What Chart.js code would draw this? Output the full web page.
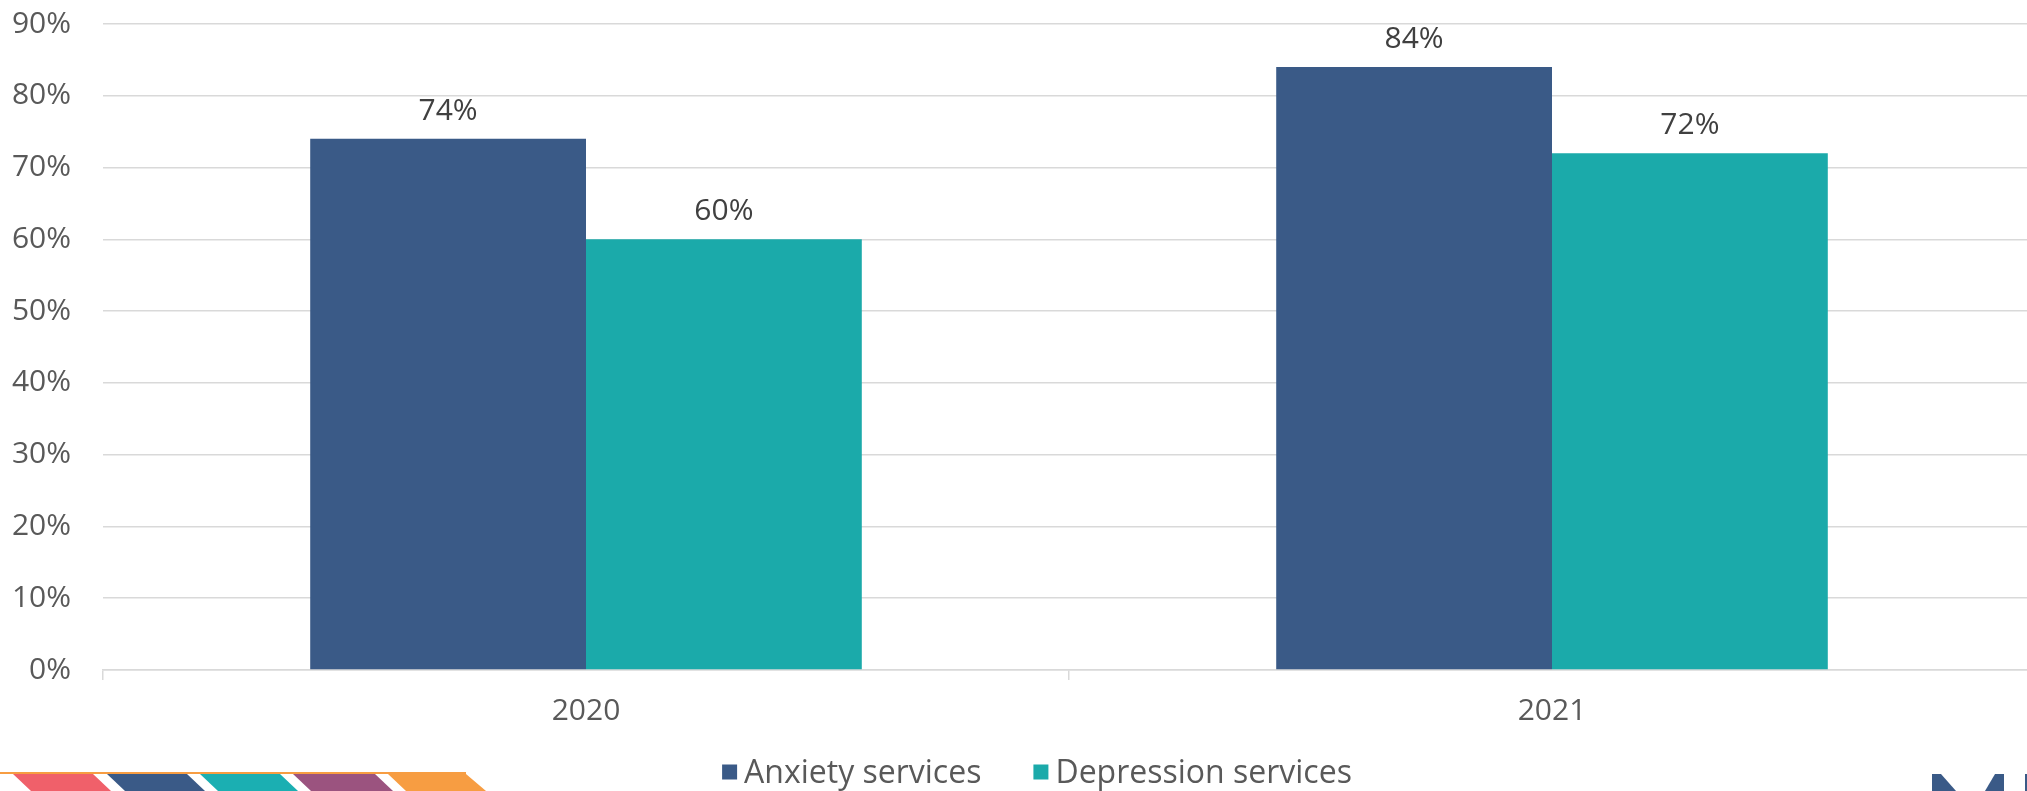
<!DOCTYPE html>
<html>
<head>
<meta charset="utf-8">
<title>Anxiety and depression services</title>
<script src="https://cdn.jsdelivr.net/npm/chart.js@4.4.0/dist/chart.umd.min.js"></script>
<style>
  html, body { margin: 0; padding: 0; background: #fff; overflow: hidden; }
  #page { position: relative; width: 2027px; height: 791px; overflow: hidden; }
  #plot { position: absolute; left: 0; top: 0; width: 2035px; height: 791px; }
  #trim { position: absolute; left: 0; top: 0; pointer-events: none; }
</style>
</head>
<body>
<div id="page">
  <div id="plot"><canvas id="grafico"></canvas></div>
  <!-- slide footer: coloured stripes and the corner of the logo -->
  <svg id="trim" width="2027" height="791">
    <rect x="0" y="772" width="466" height="2" fill="#F79D42"/>
    <polygon points="13,774 93,774 111,791 31,791" fill="#F0606A"/>
    <polygon points="107,774 187,774 205,791 125,791" fill="#3A5A87"/>
    <polygon points="200,774 280,774 298,791 218,791" fill="#1BAFB2"/>
    <polygon points="293,774 375,774 393,791 311,791" fill="#9B537F"/>
    <polygon points="388,774 466,774 486,791 406,791" fill="#F79D42"/>
    <polygon points="1932,774 1941,774 1956,791 1932,791" fill="#3A5A87"/>
    <polygon points="1995,774 2004,774 2004,791 1985,791" fill="#3A5A87"/>
    <polygon points="2025,774 2027,774 2027,791 2025,791" fill="#3A5A87"/>
  </svg>
</div>
<script>
const anos = ['2020', '2021'];
const ansiedad = [74, 84];
const depresion = [60, 72];
const ticksY = [0, 10, 20, 30, 40, 50, 60, 70, 80, 90];

const FUENTE = '"Open Sans", Lato, sans-serif';

// porcentaje encima de cada barra
const etiquetasValor = {
    id: 'etiquetasValor',
    afterDatasetsDraw(chart) {
        const ctx = chart.ctx;
        ctx.save();
        ctx.font = '30px ' + FUENTE;
        ctx.fillStyle = '#404040';
        ctx.textAlign = 'center';
        ctx.textBaseline = 'alphabetic';
        chart.data.datasets.forEach((ds, i) => {
            chart.getDatasetMeta(i).data.forEach((barra, j) => {
                ctx.fillText(ds.data[j] + '%', barra.x, barra.y - 19);
            });
        });
        ctx.restore();
    }
};

// leyenda propia: cuadro pequeño pegado al texto y bastante aire entre series
const leyenda = {
    id: 'leyenda',
    afterDraw(chart, args, opts) {
        const ctx = chart.ctx;
        ctx.save();
        ctx.font = opts.size + 'px ' + FUENTE;
        ctx.textBaseline = 'middle';
        ctx.textAlign = 'left';
        const items = chart.data.datasets.map(ds => ({
            texto: ds.label,
            color: ds.backgroundColor,
            ancho: opts.caja + opts.hueco + ctx.measureText(ds.label).width
        }));
        const total = items.reduce((s, it) => s + it.ancho, 0) + opts.separacion * (items.length - 1);
        let x = opts.centroX - total / 2;
        items.forEach(it => {
            ctx.fillStyle = it.color;
            ctx.fillRect(x, opts.y - opts.caja / 2, opts.caja, opts.caja);
            ctx.fillStyle = '#595959';
            ctx.fillText(it.texto, x + opts.caja + opts.hueco, opts.y + 2);
            x += it.ancho + opts.separacion;
        });
        ctx.restore();
    }
};

const ctx = document.getElementById('grafico').getContext('2d');

new Chart(ctx, {
    type: 'bar',
    data: {
        labels: anos,
        datasets: [{
            label: 'Anxiety services',
            data: ansiedad,
            backgroundColor: '#3A5A87',
            borderWidth: 0
        }, {
            label: 'Depression services',
            data: depresion,
            backgroundColor: '#1BAAAA',
            borderWidth: 0
        }]
    },
    options: {
        responsive: true,
        maintainAspectRatio: false,
        animation: false,
        categoryPercentage: 0.571,
        barPercentage: 1.0,
        layout: {
            padding: { top: 0, left: 0, right: 0, bottom: 49 }
        },
        scales: {
            x: {
                offset: true,
                grid: {
                    offset: true,
                    drawOnChartArea: false,
                    drawTicks: true,
                    tickLength: 10,
                    color: '#d9d9d9',
                    lineWidth: 1.5
                },
                border: { display: true, color: '#d9d9d9', width: 1.5 },
                ticks: {
                    padding: 16,
                    color: '#595959',
                    font: { family: FUENTE, size: 30, lineHeight: 1 }
                }
            },
            y: {
                min: 0,
                max: 90,
                afterBuildTicks(scale) {
                    scale.ticks = ticksY.map(v => ({ value: v }));
                },
                grid: {
                    color: '#d9d9d9',
                    lineWidth: 1.5,
                    drawTicks: false
                },
                border: { display: false },
                ticks: {
                    padding: 32,
                    color: '#595959',
                    font: { family: FUENTE, size: 30 },
                    callback: v => v + '%'
                },
                afterFit(scale) {
                    scale.width = 103;
                    scale.paddingTop = 24;
                    scale.paddingBottom = 0;
                }
            }
        },
        plugins: {
            legend: { display: false },
            tooltip: { enabled: false },
            leyenda: {
                centroX: 1037,
                y: 772,
                size: 32,
                caja: 15,
                hueco: 7,
                separacion: 52
            }
        }
    },
    plugins: [etiquetasValor, leyenda]
});
</script>
</body>
</html>
